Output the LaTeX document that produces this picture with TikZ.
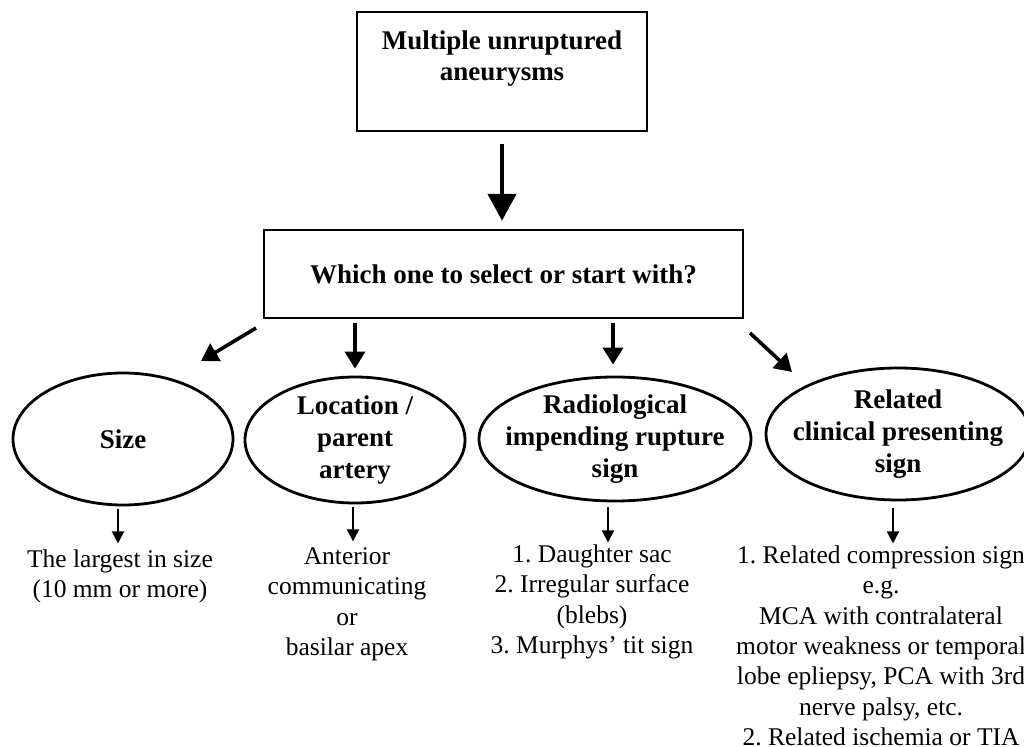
\documentclass[tikz,border=0pt]{standalone}
\usepackage{fontspec}
\setmainfont{Liberation Serif}
\usetikzlibrary{shapes.geometric,arrows.meta,positioning}

\tikzset{
  box/.style={draw, line width=2.5pt, align=center, inner sep=0pt,
    font=\bfseries\fontsize{27}{31}\selectfont},
  oval/.style={ellipse, draw, line width=2.8pt, align=center, inner sep=-20pt,
    font=\bfseries\fontsize{27}{32}\selectfont},
  note/.style={align=center, inner sep=0pt,
    font=\fontsize{25.5}{30.4}\selectfont},
  bigarrow/.style={line width=4.5pt, -{Triangle[width=28pt,length=27pt]}},
  midarrow/.style={line width=3.6pt, -{Triangle[width=20pt,length=17pt]}},
  smallarrow/.style={line width=2pt, -{Triangle[width=12pt,length=12pt]}},
}

\begin{document}
\frenchspacing
\begin{tikzpicture}[x=1pt,y=-1pt]
\useasboundingbox (0,0) rectangle (1024,746);
\clip (0,0) rectangle (1024,746);

% boxes
\node[box, minimum width=290, minimum height=119] (top) at (502,71.5)
  {Multiple unruptured\\aneurysms\\~};
\node[box, minimum width=479, minimum height=88] (mid) at (503.5,274)
  {Which one to select or start with?};

% criteria
\node[oval, minimum width=220, minimum height=132] (size) at (123,439) {Size};
\node[oval, minimum width=220, minimum height=126] (loc) at (355,440)
  {Location /\\parent\\artery};
\node[oval, minimum width=272, minimum height=124] (rad) at (615,439)
  {Radiological\\impending rupture\\sign};
\node[oval, minimum width=264, minimum height=132] (clin) at (898,434)
  {Related\\clinical presenting\\sign};

\draw[bigarrow, shorten <=12pt, shorten >=8pt] (top.south) -- (top.south |- mid.north);

\coordinate (l1) at (256,328);
\coordinate (l2) at (201,361);
\coordinate (r1) at (750,333);
\coordinate (r2) at (792,372);
\draw[midarrow] (l1) -- (l2);
\draw[midarrow] (r1) -- (r2);
\draw[midarrow, shorten <=4pt, shorten >=7pt] (mid.south -| loc.north) -- (loc.north);
\draw[midarrow, shorten <=4pt, shorten >=11pt] ([xshift=-2pt]mid.south -| rad.north) -- ([xshift=-2pt]rad.north);

% outcomes
\draw[smallarrow] ([xshift=-5pt,yshift=-3pt]size.south) -- ++(0,34) coordinate (sizeend);
\draw[smallarrow] ([xshift=-2pt,yshift=-3pt]loc.south) -- ++(0,34) coordinate (locend);
\draw[smallarrow] ([xshift=-7pt,yshift=-5pt]rad.south) -- ++(0,35) coordinate (radend);
\draw[smallarrow] ([xshift=-5pt,yshift=-7pt]clin.south) -- ++(0,35) coordinate (clinend);

\node[note, below=6pt of sizeend, xshift=2pt] (sizetxt)
  {The largest in size\\(10 mm or more)};
\node[note, below=6pt of locend, xshift=-6pt] (loctxt)
  {Anterior\\communicating\\or\\basilar apex};
\node[note, below=2pt of radend, xshift=-16pt] (radtxt)
  {1. Daughter sac\\2. Irregular surface\\(blebs)\\3. Murphys’ tit sign};
\node[note, below=2pt of clinend, xshift=-12pt] (clintxt)
  {1. Related compression sign\\e.g.\\MCA with contralateral\\motor weakness or temporal\\lobe epliepsy, PCA with 3rd\\nerve palsy, etc.\\2. Related ischemia or TIA};
\end{tikzpicture}
\end{document}
